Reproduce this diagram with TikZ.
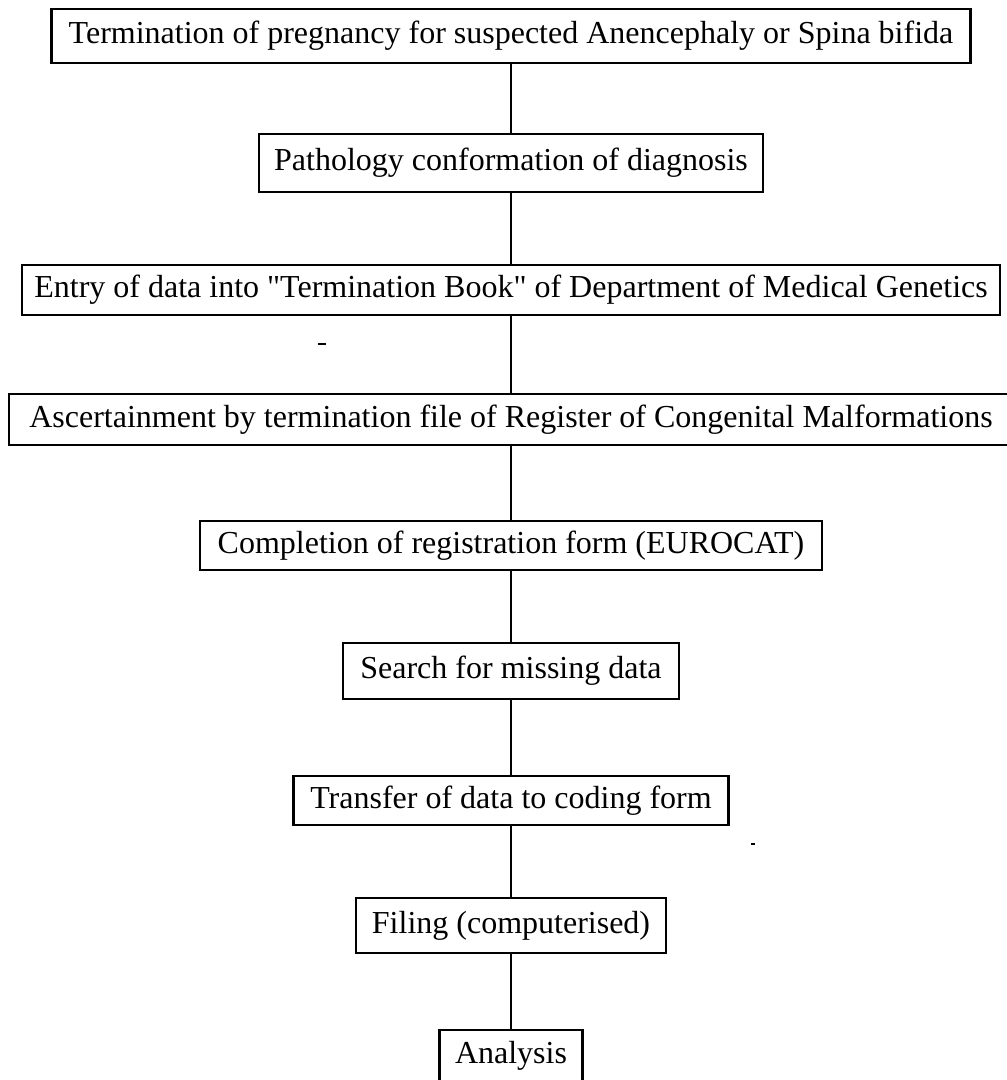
\documentclass[tikz,border=0pt]{standalone}
\usepackage{fontspec}
\newfontfamily\boxfont{Liberation Serif}
\begin{document}
\begin{tikzpicture}[x=1pt,y=-1pt,
  flowbox/.style={draw=black,line width=2.8pt,rectangle,inner sep=0pt,
    align=center,font=\boxfont\fontsize{32}{36}\selectfont},
  link/.style={draw=black,line width=2.4pt}]
\useasboundingbox (0,0) rectangle (1007,1080);
\clip (0,0) rectangle (1007,1080);
\fill[white] (0,0) rectangle (1007,1080);
\node[flowbox,minimum width=919pt,minimum height=54pt] (b1) at (511,36)
  {Termination of pregnancy for suspected Anencephaly or Spina bifida};
\node[flowbox,minimum width=504pt,minimum height=58pt] (b2) at (511,163)
  {Pathology conformation of diagnosis};
\node[flowbox,minimum width=978pt,minimum height=50pt] (b3) at (511,290)
  {Entry of data into "Termination Book" of Department of Medical Genetics};
\node[flowbox,minimum width=1004pt,minimum height=51pt] (b4) at (511,419.5)
  {Ascertainment by termination file of Register of Congenital Malformations};
\node[flowbox,minimum width=622pt,minimum height=49pt] (b5) at (511,545.5)
  {Completion of registration form (EUROCAT)};
\node[flowbox,minimum width=336pt,minimum height=56pt] (b6) at (511,671)
  {Search for missing data};
\node[flowbox,minimum width=435pt,minimum height=49pt] (b7) at (511,800.5)
  {Transfer of data to coding form};
\node[flowbox,minimum width=310pt,minimum height=55pt] (b8) at (511,925.5)
  {Filing (computerised)};
\node[flowbox,minimum width=143pt,minimum height=52pt] (b9) at (511,1056)
  {Analysis};
\draw[link] (b1) -- (b2);
\draw[link] (b2) -- (b3);
\draw[link] (b3) -- (b4);
\draw[link] (b4) -- (b5);
\draw[link] (b5) -- (b6);
\draw[link] (b6) -- (b7);
\draw[link] (b7) -- (b8);
\draw[link] (b8) -- (b9);
\draw[line width=2.4pt] (318,344) -- (326,344);
\draw[line width=1.6pt] (751,844) -- (755,844);
\end{tikzpicture}
\end{document}
